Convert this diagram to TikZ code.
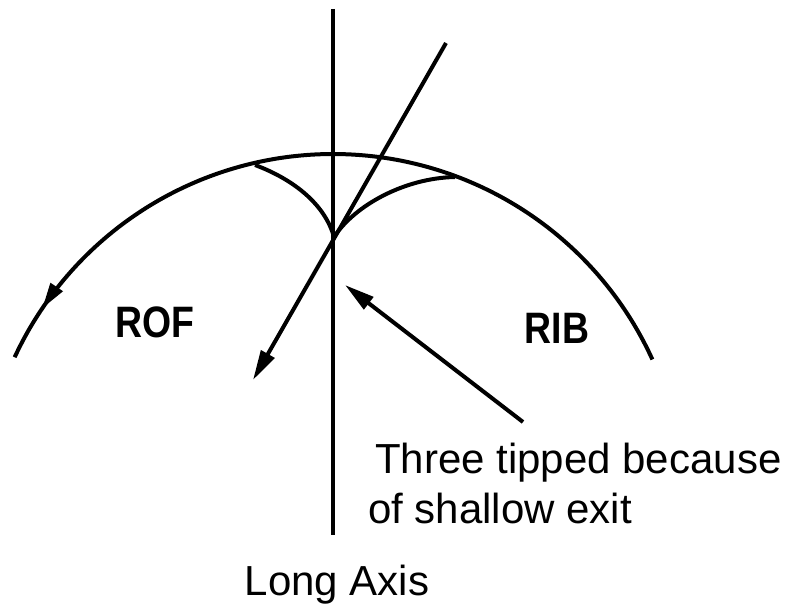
\documentclass[tikz,border=0pt]{standalone}
\usepackage{fontspec}
\setmainfont{Liberation Sans}
\usetikzlibrary{arrows.meta,decorations.markings}
\tikzset{
  ink/.style={line width=4pt, black},
  bigtip/.style={-{Triangle[length=30pt,width=15pt]}},
  lbl/.style={inner sep=0pt, font=\fontsize{42}{50}\selectfont},
  boldlbl/.style={inner sep=0pt, font=\fontsize{44}{50}\selectfont\bfseries},
}
\begin{document}
\begin{tikzpicture}[x=1pt,y=1pt]
\useasboundingbox (0,0) rectangle (790,-607);
% named points
\coordinate (axtop) at (333,-9);
\coordinate (axbot) at (333,-535);
\coordinate (dtop) at (446,-43);
\coordinate (dtip) at (253,-380);
\coordinate (atail) at (523,-422);
\coordinate (atip) at (345,-285);
\coordinate (tl) at (255,-165);
\coordinate (tr) at (455,-177);
\coordinate (cusp) at (334,-237);
% long axis
\draw[ink] (axtop) -- (axbot);
% big arc
\draw[ink, postaction={decorate, decoration={markings,
    mark=at position 0.93 with {\arrow{Triangle[length=26pt,width=14pt]}}}}]
  plot[domain=24.5:155.1, samples=80, smooth] ({333+351*cos(\x)},{-505+351*sin(\x)});
% inner curves
\draw[ink] (tl) .. controls (295,-180) and (325,-205) .. (cusp);
\draw[ink] (tr) .. controls (405,-178) and (355,-205) .. (cusp);
% diagonal exit line
\draw[ink, bigtip] (dtop) -- (dtip);
% pointer arrow
\draw[ink, bigtip] (atail) -- (atip);
% labels
\node[boldlbl, anchor=base] (rof) at (155,-337) {\scalebox{0.85}[1]{ROF}};
\node[boldlbl, anchor=base] (rib) at (557,-343) {\scalebox{0.85}[1]{RIB}};
\node[lbl, anchor=base west] (note1) at (375,-473) {Three tipped because};
\node[lbl, anchor=base west] (note2) at (368,-523) {of shallow exit};
\node[lbl, anchor=base] (axis) at (337,-595) {Long Axis};
\end{tikzpicture}
\end{document}
